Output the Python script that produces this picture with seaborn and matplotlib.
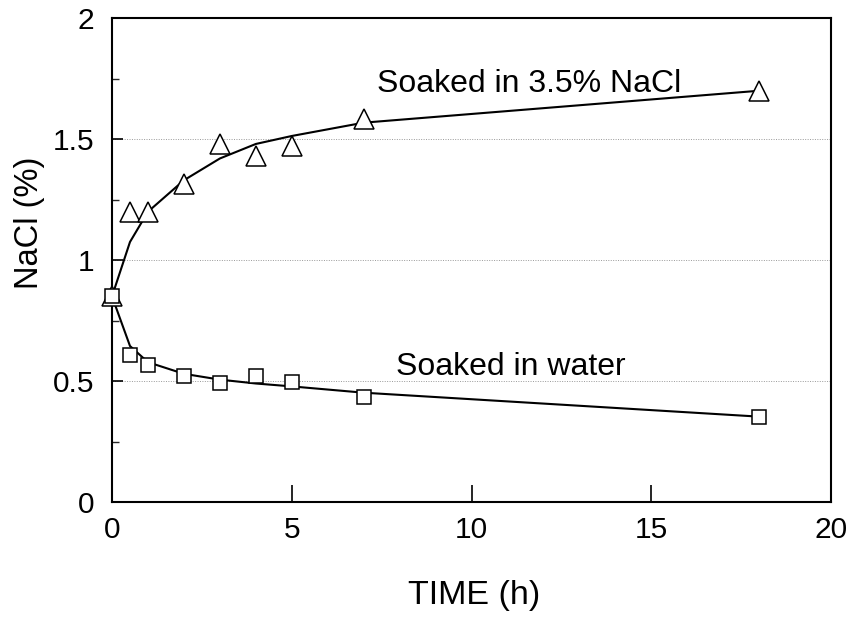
import matplotlib
matplotlib.use("Agg")
import matplotlib.pyplot as plt
from matplotlib.ticker import MultipleLocator
import seaborn as sns
import pandas as pd

# Measured NaCl content over soaking time
time_h = [0, 0.5, 1, 2, 3, 4, 5, 7, 18]
nacl_salt = [0.85, 1.20, 1.20, 1.315, 1.48, 1.43, 1.47, 1.585, 1.70]
nacl_water = [0.85, 0.606, 0.568, 0.52, 0.49, 0.523, 0.495, 0.433, 0.353]

# Fitted curves evaluated at the sampling times
fit_salt = [0.85, 1.075, 1.20, 1.33, 1.42, 1.48, 1.513, 1.568, 1.70]
fit_water = [0.85, 0.645, 0.578, 0.53, 0.506, 0.49, 0.478, 0.452, 0.353]

x_ticks = [0, 5, 10, 15, 20]
y_ticks = [0, 0.5, 1, 1.5, 2]
y_tick_labels = ["0", "0.5", "1", "1.5", "2"]

label_salt = "Soaked in 3.5% NaCl"
label_water = "Soaked in water"

df = pd.DataFrame({
    "time": time_h,
    "salt": nacl_salt,
    "water": nacl_water,
    "fit_salt": fit_salt,
    "fit_water": fit_water,
})

sns.set_theme(style="ticks")
plt.rcParams["font.family"] = ["Liberation Sans", "DejaVu Sans"]

fig = plt.figure(figsize=(8.57, 6.26), dpi=100)
ax = fig.add_axes([0.1307, 0.198, 0.8390, 0.773])

# fitted curves
for col in ["fit_salt", "fit_water"]:
    sns.lineplot(data=df, x="time", y=col, ax=ax, color="black", lw=1.5,
                 estimator=None, sort=True, zorder=3)

# measured points
sns.lineplot(data=df, x="time", y="salt", ax=ax, estimator=None, ls="",
             marker="^", ms=14, mfc="white", mec="black", mew=1.1,
             color="black", zorder=4, clip_on=False)
sns.lineplot(data=df, x="time", y="water", ax=ax, estimator=None, ls="",
             marker="s", ms=10, mfc="white", mec="black", mew=1.1,
             color="black", zorder=4, clip_on=False)

ax.set_xlim(0, 20)
ax.set_ylim(0, 2)
ax.set_xticks(x_ticks)
ax.set_yticks(y_ticks)
ax.set_yticklabels(y_tick_labels)
ax.yaxis.set_minor_locator(MultipleLocator(0.25))

ax.yaxis.grid(True, which="major", ls=(0, (1, 1.5)), color="#999999", lw=0.7)
ax.set_axisbelow(True)

for s in ax.spines.values():
    s.set_linewidth(1.5)
    s.set_color("black")

ax.tick_params(axis="y", which="major", direction="in", length=8, width=1.2,
               labelsize=21.5, pad=13, colors="black")
ax.tick_params(axis="y", which="minor", direction="in", length=5, width=1.0)
ax.tick_params(axis="x", which="major", direction="in", length=12, width=1.2,
               labelsize=21.5, pad=10, colors="black")
ax.tick_params(top=False, right=False)

ax.set_xlabel("TIME (h)", fontsize=24.5, color="black")
ax.set_ylabel("NaCl (%)", fontsize=23.5, color="black")
ax.xaxis.set_label_coords(0.504, -0.162)
ax.yaxis.set_label_coords(-0.093, 0.578)

ax.text(7.38, 1.695, label_salt, fontsize=23, color="black", ha="left", va="baseline")
ax.text(7.90, 0.525, label_water, fontsize=23, color="black", ha="left", va="baseline")

fig.savefig("out.png", dpi=100)
